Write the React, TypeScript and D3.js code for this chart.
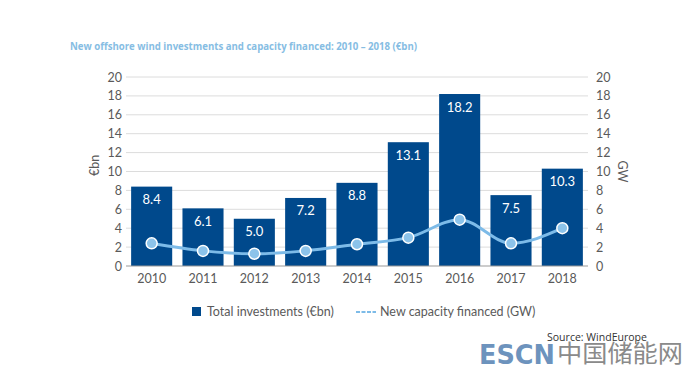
import React from "react";
import * as d3 from "d3";

const years = ["2010", "2011", "2012", "2013", "2014", "2015", "2016", "2017", "2018"];
const investments = [8.4, 6.1, 5.0, 7.2, 8.8, 13.1, 18.2, 7.5, 10.3];
const capacity = [2.4, 1.6, 1.3, 1.6, 2.3, 3.0, 4.9, 2.4, 4.0];
const yTicks = [0, 2, 4, 6, 8, 10, 12, 14, 16, 18, 20];

const W = 687, H = 369;
const left = 126, right = 588, top = 77, bottom = 266;

export default function App() {
  const x = d3.scaleBand<string>().domain(years).range([left, right]).paddingInner(0.2).paddingOuter(0.1);
  const y = d3.scaleLinear().domain([0, 20]).range([bottom, top]);
  const y2 = d3.scaleLinear().domain([0, 20]).range([bottom, top]);
  const line = d3.line<number>()
    .x((_, i) => (x(years[i]) as number) + x.bandwidth() / 2)
    .y((d) => y2(d))
    .curve(d3.curveMonotoneX);
  const axisFont = "Lato, 'DejaVu Sans', sans-serif";
  return (
    <svg width={W} height={H} style={{ position: "absolute", left: 0, top: 0, background: "#fff" }}>
      <rect x={0} y={0} width={W} height={H} fill="#fff" />
      <text x={70} y={50} fontFamily="'Open Sans', sans-serif" fontWeight="bold" fontSize={10.5} fill="#86bde3" textLength={347} lengthAdjust="spacingAndGlyphs">
        New offshore wind investments and capacity financed: 2010 – 2018 (€bn)
      </text>
      {yTicks.map((t) => (
        <g key={t}>
          {t > 0 && <line x1={left} x2={right} y1={y(t)} y2={y(t)} stroke="#dcdcdc" strokeWidth={1} />}
          <text x={122} y={y(t) + 4.5} textAnchor="end" fontFamily={axisFont} fontSize={12.5} fill="#5a5a5a">{t}</text>
          <text x={596} y={y(t) + 4.5} textAnchor="start" fontFamily={axisFont} fontSize={12.5} fill="#5a5a5a">{t}</text>
        </g>
      ))}
      {years.map((yr, i) => (
        <g key={yr}>
          <rect x={x(yr)} y={y(investments[i])} width={x.bandwidth()} height={bottom - y(investments[i])} fill="#00498c" />
          <text x={(x(yr) as number) + x.bandwidth() / 2} y={y(investments[i]) + 17.5} textAnchor="middle" fontFamily={axisFont} fontSize={13} fill="#fff">
            {investments[i].toFixed(1)}
          </text>
          <text x={(x(yr) as number) + x.bandwidth() / 2} y={283} textAnchor="middle" fontFamily={axisFont} fontSize={12.5} fill="#5a5a5a">{yr}</text>
        </g>
      ))}
      <line x1={left} x2={right} y1={bottom} y2={bottom} stroke="#999" strokeWidth={1} />
      <path d={line(capacity) || ""} fill="none" stroke="#7dbbe8" strokeWidth={3} />
      {capacity.map((c, i) => (
        <circle key={i} cx={(x(years[i]) as number) + x.bandwidth() / 2} cy={y2(c)} r={5.5} fill="#8cc3ea" stroke="#fff" strokeWidth={1.5} />
      ))}
      <text transform={`translate(99,${(top + bottom) / 2 - 6}) rotate(-90)`} textAnchor="middle" fontFamily={axisFont} fontSize={12.5} fill="#5a5a5a">€bn</text>
      <text transform={`translate(618,${(top + bottom) / 2}) rotate(90)`} textAnchor="middle" fontFamily={axisFont} fontSize={12.5} fill="#5a5a5a">GW</text>
      <rect x={192} y={307} width={9} height={9} fill="#00498c" />
      <text x={207} y={316} fontFamily={axisFont} fontSize={12.5} fill="#5a5a5a">Total investments (€bn)</text>
      <line x1={356} x2={376} y1={312} y2={312} stroke="#7dbbe8" strokeWidth={2} strokeDasharray="4,1.5" />
      <text x={380} y={316} fontFamily={axisFont} fontSize={12.5} fill="#5a5a5a">New capacity financed (GW)</text>
      <text x={479} y={364} fontFamily="'DejaVu Sans', sans-serif" fontWeight="bold" fontSize={27} fill="#6d93bd" textLength={76} lengthAdjust="spacingAndGlyphs">ESCN</text>
      <text x={557} y={362} fontFamily="'Noto Sans CJK SC', sans-serif" fontSize={24} fill="#8a8a8a" textLength={126} lengthAdjust="spacingAndGlyphs">中国储能网</text>
      <text x={547} y={341} fontFamily="'Open Sans', sans-serif" fontSize={10.5} fill="#333" textLength={100} lengthAdjust="spacingAndGlyphs">Source: WindEurope</text>
    </svg>
  );
}
